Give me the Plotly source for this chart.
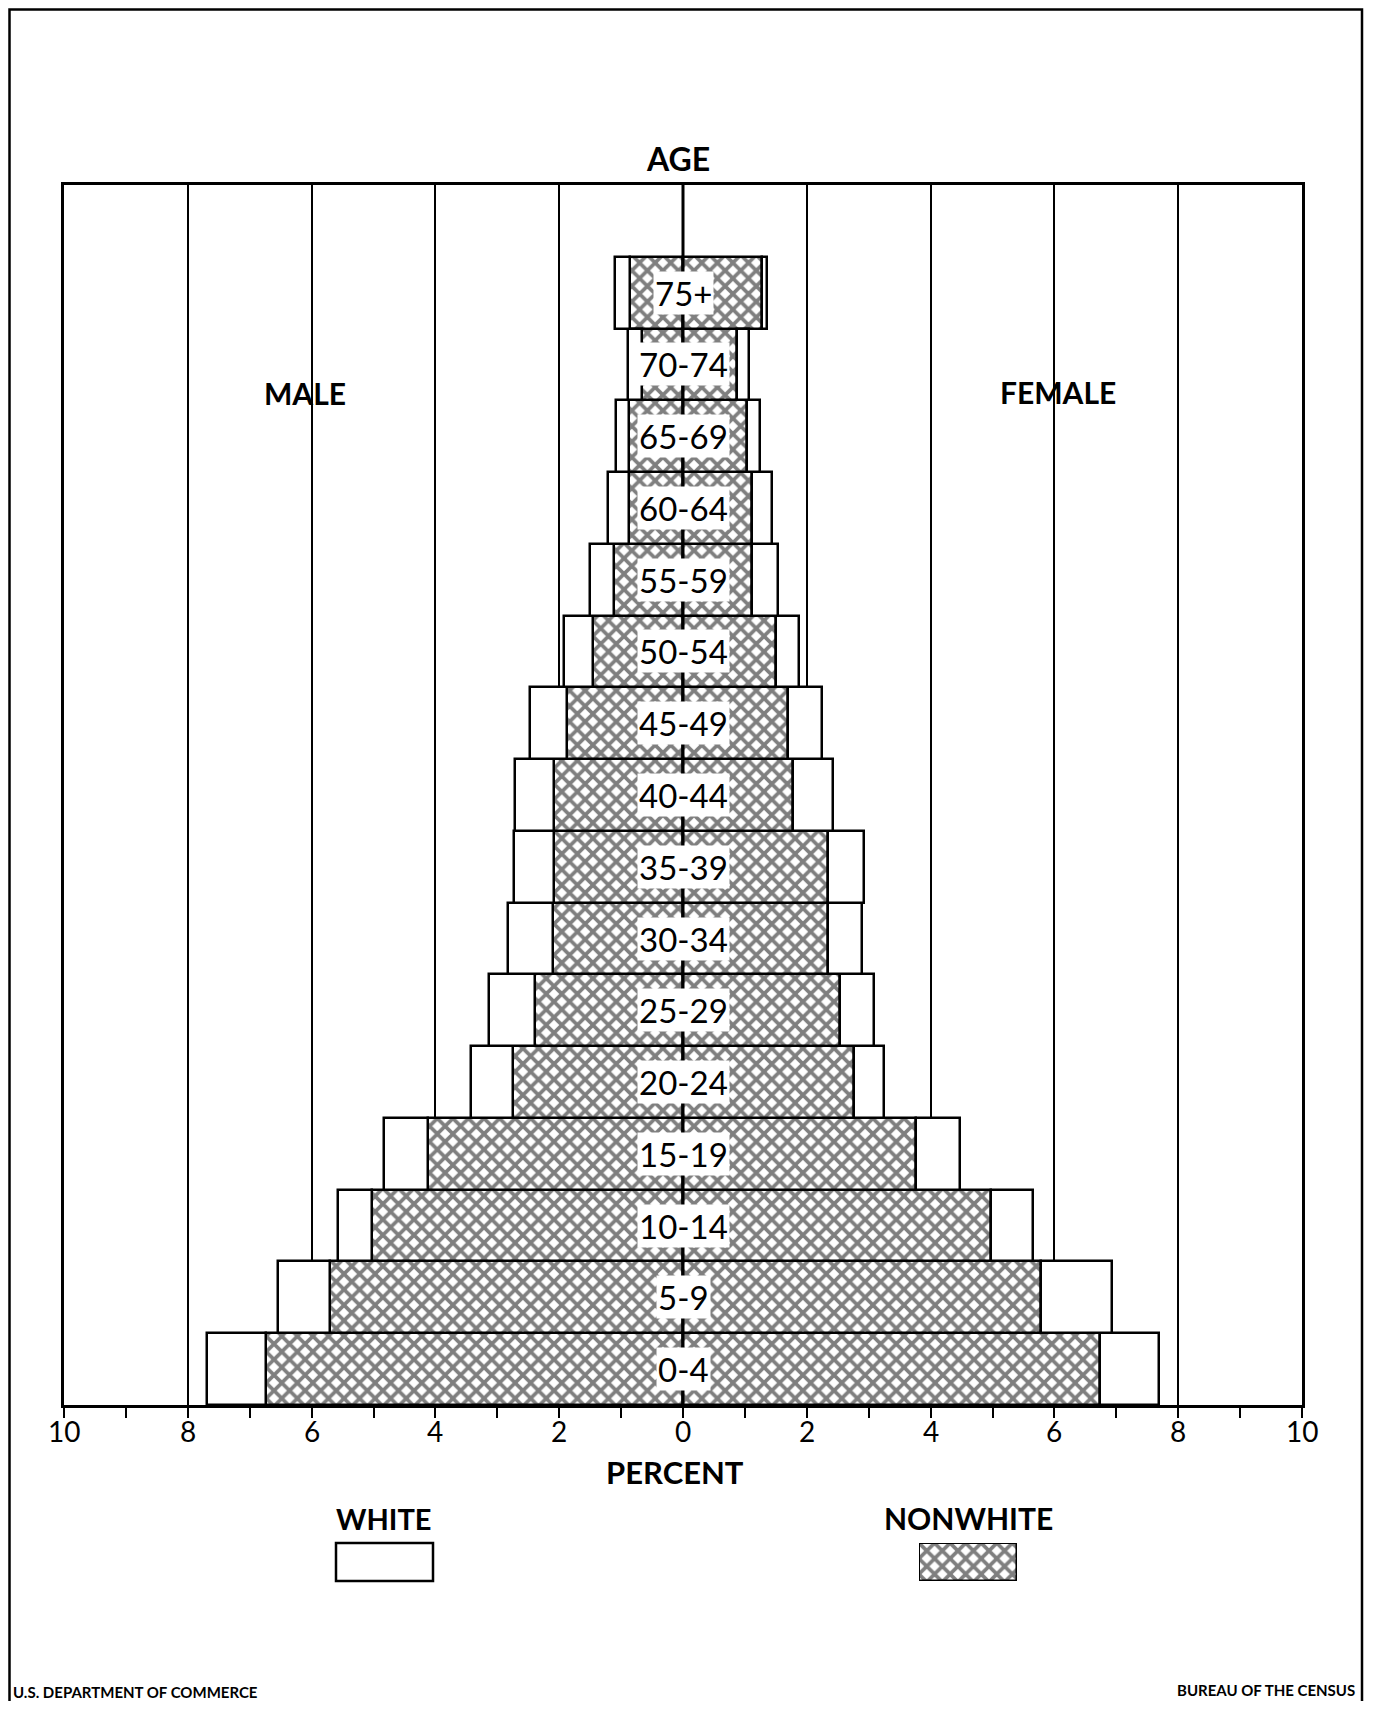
import plotly.graph_objects as go

# ---------------- data (percent of total population) ----------------
age_groups = ["0-4", "5-9", "10-14", "15-19", "20-24", "25-29", "30-34", "35-39",
              "40-44", "45-49", "50-54", "55-59", "60-64", "65-69", "70-74", "75+"]

male_nonwhite = [6.73, 5.71, 5.02, 4.12, 2.75, 2.39, 2.10, 2.08,
                 2.08, 1.87, 1.45, 1.12, 0.88, 0.87, 0.67, 0.86]
male_white = [0.96, 0.84, 0.56, 0.71, 0.68, 0.74, 0.72, 0.65,
              0.64, 0.60, 0.47, 0.38, 0.33, 0.22, 0.22, 0.24]
female_nonwhite = [6.74, 5.78, 4.98, 3.76, 2.76, 2.53, 2.35, 2.35,
                   1.78, 1.70, 1.50, 1.12, 1.11, 1.03, 0.87, 1.27]
female_white = [0.95, 1.15, 0.67, 0.72, 0.48, 0.55, 0.54, 0.58,
                0.65, 0.55, 0.38, 0.42, 0.33, 0.21, 0.20, 0.09]

tick_values = [-10, -8, -6, -4, -2, 0, 2, 4, 6, 8, 10]
tick_labels = ["10", "8", "6", "4", "2", "0", "2", "4", "6", "8", "10"]
minor_ticks = [-9, -7, -5, -3, -1, 1, 3, 5, 7, 9]

# ---------------- figure geometry helpers ----------------
# the page adds an 8px body margin, so the figure is sized to fit the window
OFF = 8
W, H = 1360, 1693
FONT = "Lato"


def px(x):
    """page x (reference pixels) -> paper fraction"""
    return (x - OFF) / W


def py(y):
    """page y (reference pixels) -> paper fraction"""
    return 1 - (y - OFF) / H


HATCH = dict(shape="x", fgcolor="black", bgcolor="white", size=11, solidity=0.55)
LINE = dict(color="black", width=2.5)

fig = go.Figure()

# nonwhite (hatched), nearest the centre
fig.add_trace(go.Bar(y=age_groups, x=[-v for v in male_nonwhite], orientation="h",
                     width=1, name="NONWHITE", showlegend=False,
                     marker=dict(color="white", pattern=HATCH, line=LINE)))
fig.add_trace(go.Bar(y=age_groups, x=female_nonwhite, orientation="h",
                     width=1, name="NONWHITE", showlegend=False,
                     marker=dict(color="white", pattern=HATCH, line=LINE)))
# white (open), stacked outside
fig.add_trace(go.Bar(y=age_groups, x=[-v for v in male_white], orientation="h",
                     width=1, name="WHITE", showlegend=False,
                     marker=dict(color="white", line=LINE)))
fig.add_trace(go.Bar(y=age_groups, x=female_white, orientation="h",
                     width=1, name="WHITE", showlegend=False,
                     marker=dict(color="white", line=LINE)))

# legend swatch for NONWHITE (hatched) on its own small axes
fig.add_trace(go.Bar(x=[1], y=["k"], base=[0], orientation="h", width=1,
                     xaxis="x2", yaxis="y2", showlegend=False, hoverinfo="skip",
                     marker=dict(color="white", pattern=HATCH, line=LINE)))

fig.update_layout(
    width=W, height=H,
    margin=dict(l=0, r=0, t=0, b=0, pad=0),
    paper_bgcolor="white", plot_bgcolor="white",
    barmode="relative", bargap=0,
    showlegend=False,
    font=dict(family=FONT, color="black"),
    xaxis=dict(
        domain=[px(64), px(1302)], range=[-10, 10], anchor="y",
        tickmode="array", tickvals=tick_values, ticktext=tick_labels,
        showticklabels=False,
        ticks="outside", ticklen=10, tickwidth=2, tickcolor="black",
        minor=dict(tickmode="array", tickvals=minor_ticks, ticks="outside",
                   ticklen=10, tickwidth=2, tickcolor="black", showgrid=False),
        showgrid=True, gridcolor="black", gridwidth=1.5,
        zeroline=False, showline=True, linecolor="black", linewidth=2.5,
        mirror=True, automargin=False, fixedrange=True,
    ),
    yaxis=dict(
        domain=[py(1405), py(185)], range=[-0.5, 16.5], anchor="x",
        type="category", showticklabels=False, ticks="",
        showgrid=False, zeroline=False, showline=True, linecolor="black",
        linewidth=2.5, mirror=True, automargin=False, fixedrange=True,
    ),
    xaxis2=dict(domain=[px(919), px(1017)], range=[0, 1], anchor="y2",
                visible=False, fixedrange=True),
    yaxis2=dict(domain=[py(1581), py(1543)], range=[-0.5, 0.5], anchor="x2",
                type="category", visible=False, fixedrange=True),
)

# centre (age) axis line drawn over the bars
fig.add_shape(type="line", xref="x", yref="y", x0=0, x1=0, y0=-0.5, y1=16.5,
              line=dict(color="black", width=3), layer="above")

# legend swatch for WHITE (open box)
fig.add_shape(type="rect", xref="paper", yref="paper",
              x0=px(336), x1=px(433), y0=py(1581), y1=py(1543),
              line=dict(color="black", width=2.5), fillcolor="white")

# outer page frame (bottom edge runs off the page)
fig.add_shape(type="rect", xref="paper", yref="paper",
              x0=px(9.5), x1=px(1362), y0=-0.02, y1=py(9.5),
              line=dict(color="black", width=2.5), fillcolor="rgba(0,0,0,0)")

# x tick labels (absolute percent), placed at the axis values
for v, t in zip(tick_values, tick_labels):
    fig.add_annotation(x=v, y=py(1431), xref="x", yref="paper", text=t,
                       showarrow=False, yanchor="middle",
                       font=dict(family=FONT, size=28, color="black"))

# age labels in white boxes at the centre line
for g in age_groups:
    fig.add_annotation(x=0, y=g, xref="x", yref="y", text=g, showarrow=False,
                       font=dict(family=FONT, size=33, color="black"),
                       bgcolor="white", borderpad=1)


def label(text, x, y, size=28, bold=True, xanchor="center"):
    t = "<b>%s</b>" % text if bold else text
    fig.add_annotation(x=px(x), y=py(y), xref="paper", yref="paper", text=t,
                       showarrow=False, xanchor=xanchor, yanchor="middle",
                       font=dict(family=FONT, size=size, color="black"))


label("AGE", 678, 159, size=32)
label("MALE", 305, 393, size=30)
label("FEMALE", 1058, 392, size=30)
label("PERCENT", 675, 1472, size=31)
label("WHITE", 384, 1518, size=29)
label("NONWHITE", 968, 1518, size=30)
label("U.S. DEPARTMENT OF COMMERCE", 11, 1692, size=15, xanchor="left")
label("BUREAU OF THE CENSUS", 1357, 1690, size=15, xanchor="right")

fig.write_html("out.html")
